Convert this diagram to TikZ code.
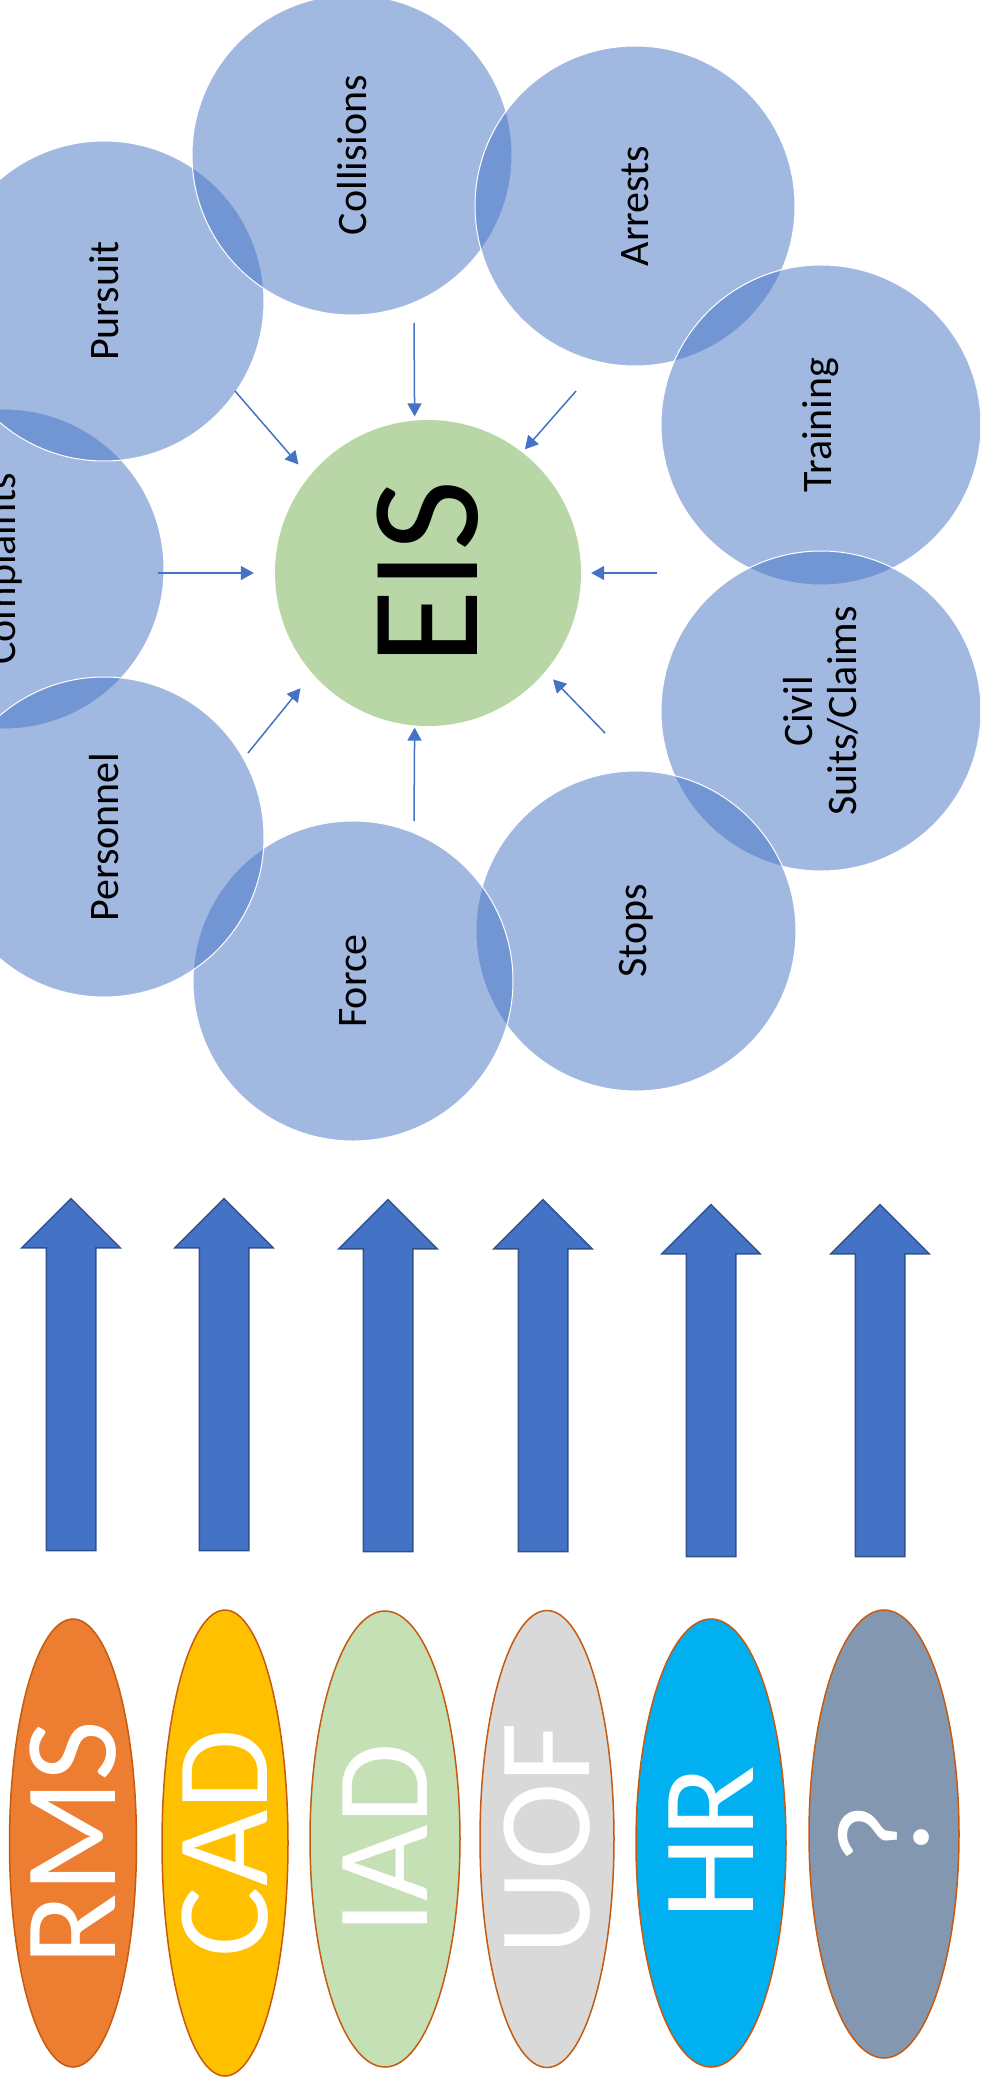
\documentclass[tikz,border=0pt]{standalone}
\usepackage{fontspec}
\setmainfont{Carlito}
\usetikzlibrary{arrows.meta,shapes.geometric,shapes.arrows}

\definecolor{accblue}{HTML}{4472C4}
\definecolor{accblueline}{HTML}{2F528F}
\definecolor{eisgreen}{HTML}{B8D6A6}
\definecolor{rmsorange}{HTML}{ED7D31}
\definecolor{cadgold}{HTML}{FFC000}
\definecolor{iadgreen}{HTML}{C5E0B4}
\definecolor{uofgrey}{HTML}{D9D9D9}
\definecolor{hrcyan}{HTML}{00B0F0}
\definecolor{unkgrey}{HTML}{8497B0}
\definecolor{srcline}{HTML}{C55A11}

\begin{document}
\begin{tikzpicture}[x=1pt,y=-1pt]
	\clip (0,0) rectangle (980,2087);

	% data areas around the EIS
	\begin{scope}[every node/.style={circle,draw=white,line width=1pt,fill=accblue,fill opacity=0.5,text opacity=1,minimum size=320pt,rotate=90,align=center,font=\fontsize{42}{44}\selectfont}]
		\node (compl) at (4,569) {Complaints};
		\node (purs) at (104,301) {Pursuit};
		\node (coll) at (352,155) {Collisions};
		\node (arr) at (635,206) {Arrests};
		\node (train) at (821,425) {Training};
		\node (civil) at (821,711) {Civil\\Suits/Claims};
		\node (stops) at (636,931) {Stops};
		\node (force) at (353,981) {Force};
		\node (pers) at (104,837) {Personnel};
	\end{scope}

	\node[circle,fill=eisgreen,minimum size=306pt,font=\fontsize{155}{160}\selectfont] (EIS) at (428,573) {\rotatebox{90}{EIS}};

	\coordinate (collin) at (414,323);
	\coordinate (arrin) at (576,391);
	\coordinate (trainin) at (657,573);
	\coordinate (civilin) at (605,733);
	\coordinate (forcein) at (414,821);
	\coordinate (persin) at (248,753);
	\coordinate (complin) at (158,573);
	\coordinate (pursin) at (235,391);

	\begin{scope}[-{Triangle[length=13pt,width=14pt]},accblue,line width=1.5pt]
		\draw[shorten >=4pt] (collin) -- (EIS.95);
		\draw[shorten >=4pt] (arrin) -- (EIS.52);
		\draw[shorten >=10pt] (trainin) -- (EIS.0);
		\draw[shorten >=11pt] (civilin) -- (EIS.-40);
		\draw[shorten >=2pt] (forcein) -- (EIS.265);
		\draw[shorten >=19pt] (persin) -- (EIS.221);
		\draw[shorten >=21pt] (complin) -- (EIS.180);
		\draw[shorten >=16pt] (pursin) -- (EIS.141);
	\end{scope}

	% feeds from the source systems
	\begin{scope}[every node/.style={single arrow,draw=accblueline,line width=1.5pt,fill=accblue,minimum height=352pt,minimum width=97pt,single arrow head extend=24.5pt,single arrow tip angle=90,inner xsep=0pt,inner ysep=24pt,rotate=90}]
		\node (rmsup) at (71,1387) {};
		\node (cadup) at (224,1387) {};
		\node (iadup) at (388,1388) {};
		\node (uofup) at (543,1388) {};
		\node (hrup) at (711,1393) {};
		\node (unkup) at (880,1393) {};
	\end{scope}

	\begin{scope}[every node/.style={ellipse,draw=srcline,line width=1.5pt,inner sep=0pt,rotate=90,text=white,font=\fontsize{132}{140}\selectfont}]
		\node[fill=rmsorange,minimum width=448pt,minimum height=127pt] (RMS) at (73,1843) {RMS};
		\node[fill=cadgold,minimum width=466pt,minimum height=126pt] (CAD) at (225,1843) {CAD};
		\node[fill=iadgreen,minimum width=456pt,minimum height=150pt] (IAD) at (385,1839) {IAD};
		\node[fill=uofgrey,minimum width=457pt,minimum height=134pt] (UOF) at (547,1839) {UOF};
		\node[fill=hrcyan,minimum width=448pt,minimum height=150pt] (HR) at (711,1843) {HR};
		\node[fill=unkgrey,minimum width=448pt,minimum height=150pt] (unk) at (884,1834) {?};
	\end{scope}
\end{tikzpicture}
\end{document}
